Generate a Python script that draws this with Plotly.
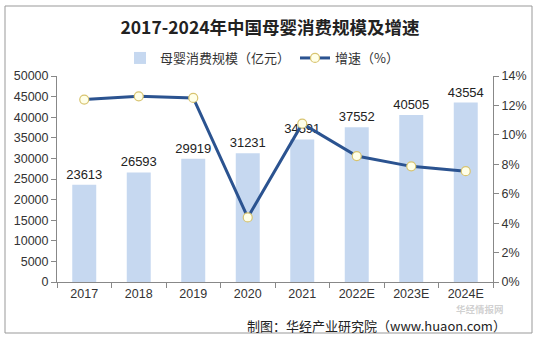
import plotly.graph_objects as go

years = ["2017", "2018", "2019", "2020", "2021", "2022E", "2023E", "2024E"]
scale = [23613, 26593, 29919, 31231, 34591, 37552, 40505, 43554]
growth = [12.4, 12.62, 12.51, 4.39, 10.76, 8.56, 7.86, 7.53]

W, H = 540, 343
L, R, T, B = 57, 47, 76, 61
pw, ph = W - L - R, H - T - B

def px(x):
    return (x - L) / pw

def py(y):
    return (H - B - y) / ph

font = "Liberation Sans, Arial, Noto Sans CJK SC, sans-serif"
cjk = "Noto Sans CJK SC, sans-serif"

fig = go.Figure()
fig.add_trace(go.Bar(
    x=years, y=scale, name="母婴消费规模（亿元）",
    marker=dict(color="#C6D8F0", line=dict(width=0)),
    width=0.44,
    text=[str(v) for v in scale], textposition="outside",
    textfont=dict(size=13, color="#222", family=font),
    constraintext="none",
    cliponaxis=False,
))
fig.add_trace(go.Scatter(
    x=years, y=growth, name="增速（%）", yaxis="y2",
    mode="lines+markers",
    line=dict(color="#2B5390", width=3),
    marker=dict(size=9, color="#FFFFE8", line=dict(color="#D8C470", width=1.2)),
    cliponaxis=False,
))

fig.update_layout(
    width=W, height=H,
    margin=dict(l=L, r=R, t=T, b=B),
    paper_bgcolor="white", plot_bgcolor="white",
    title=dict(text="<b>2017-2024年中国母婴消费规模及增速</b>", x=0.5, xanchor="center",
               y=1 - 28 / H, yanchor="middle",
               font=dict(size=17.5, color="#222", family=cjk)),
    showlegend=True,
    legend=dict(orientation="h", x=px(262), xanchor="center", y=py(58), yanchor="middle",
                font=dict(size=13, color="#333", family=cjk), bgcolor="rgba(0,0,0,0)",
                itemwidth=30, traceorder="normal"),
    xaxis=dict(type="category", showline=True, linecolor="#888", linewidth=1,
               ticks="outside", tickson="boundaries", ticklen=5, tickcolor="#888",
               tickfont=dict(size=12.5, color="#333", family=font), showgrid=False,
               range=[-0.5, 7.5]),
    yaxis=dict(range=[0, 50000], dtick=5000, tickformat="d", showline=True, linecolor="#888",
               linewidth=1, ticks="outside", ticklen=5, tickcolor="#888", showgrid=False,
               zeroline=False, tickfont=dict(size=12.5, color="#333", family=font)),
    yaxis2=dict(range=[0, 14], dtick=2, ticksuffix="%", overlaying="y", side="right",
                showline=True, linecolor="#888", linewidth=1, ticks="outside", ticklen=5,
                tickcolor="#888", showgrid=False, zeroline=False,
                tickfont=dict(size=12.5, color="#333", family=font)),
    shapes=[dict(type="rect", xref="paper", yref="paper",
                 x0=px(5), x1=px(532), y0=py(333), y1=py(6),
                 line=dict(color="#999", width=1), fillcolor="rgba(0,0,0,0)", layer="below")],
    annotations=[
        dict(text="<b>华经情报网</b>", xref="paper", yref="paper", x=px(505), y=py(308.5),
             xanchor="right", yanchor="middle", showarrow=False, borderpad=0,
             font=dict(size=9.5, color="rgba(150,150,150,0.45)", family=cjk)),
        dict(text="制图：华经产业研究院（www.huaon.com）", xref="paper", yref="paper",
             x=px(507), y=py(325), xanchor="right", yanchor="middle", showarrow=False,
             borderpad=0, font=dict(size=13, color="#222", family=cjk)),
    ],
)

fig.write_html("out.html")
